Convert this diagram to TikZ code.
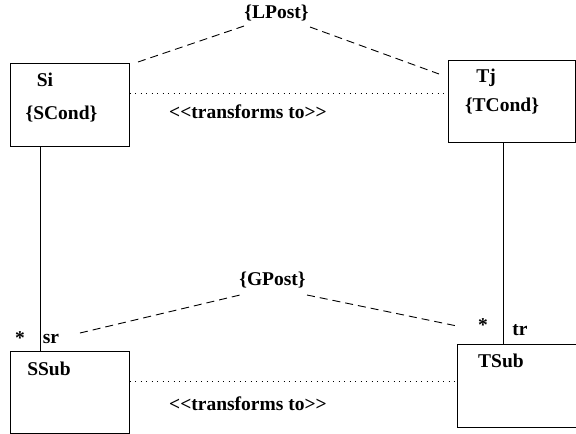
\documentclass[tikz,border=0pt]{standalone}
\usepackage{fontspec}
\setmainfont{Liberation Serif}
\begin{document}
\begin{tikzpicture}[x=1pt,y=-1pt,
  box/.style={draw,line width=1pt,rectangle,inner sep=0pt},
  lbl/.style={font=\fontsize{19.5}{22}\selectfont\bfseries,anchor=base,inner sep=0pt},
  assoc/.style={line width=0.9pt,dash pattern=on 8pt off 5pt},
  trans/.style={line width=1pt,dash pattern=on 1pt off 4.5pt},
  link/.style={line width=1pt}]
\useasboundingbox (0,0) rectangle (576,434);
% classes
\node[box,minimum width=119pt,minimum height=83pt] (si) at (69.5,104.5) {};
\node[box,minimum width=127pt,minimum height=82pt] (tj) at (511.5,101) {};
\node[box,minimum width=119pt,minimum height=82pt] (ssub) at (69.5,392) {};
\node[box,minimum width=126pt,minimum height=83pt] (tsub) at (520,385.5) {};
% class texts
\node[lbl] (siname) at (45,86) {Si};
\node[lbl] (scond) at (61.5,119) {\{SCond\}};
\node[lbl] (tjname) at (486,82) {Tj};
\node[lbl] (tcond) at (502,111) {\{TCond\}};
\node[lbl] (ssubname) at (49,375) {SSub};
\node[lbl] (tsubname) at (501,367) {TSub};
% composition links
\coordinate (sitop) at (40,0);
\draw[link] (si.south -| sitop) -- (ssub.north -| sitop);
\coordinate (tjtop) at (503,0);
\draw[link] (tj.south -| tjtop) -- (tsub.north -| tjtop);
\node[lbl] (sstar) at (20,344) {*};
\node[lbl] (srole) at (51,343) {sr};
\node[lbl] (tstar) at (483,331) {*};
\node[lbl] (trole) at (520,335) {tr};
% transformation relations
\draw[trans] (si.east |- 0,93) -- (tj.west |- 0,93);
\node[lbl] (ttop) at (248,118) {{<}{<}transforms to{>}{>}};
\draw[trans] (ssub.east |- 0,381) -- (tsub.west |- 0,381);
\node[lbl] (tbot) at (248,410) {{<}{<}transforms to{>}{>}};
% constraints
\node[lbl] (lpost) at (276.5,18) {\{LPost\}};
\coordinate (la) at (138,62);
\coordinate (lb) at (247,25);
\coordinate (lc) at (310,27);
\coordinate (ld) at (439,74);
\draw[assoc] (la) -- (lb);
\draw[assoc] (lc) -- (ld);
\node[lbl] (gpost) at (272.5,285) {\{GPost\}};
\coordinate (ga) at (80,333);
\coordinate (gb) at (240,295);
\coordinate (gc) at (307,295);
\coordinate (gd) at (457,326);
\draw[assoc] (ga) -- (gb);
\draw[assoc] (gc) -- (gd);
\end{tikzpicture}
\end{document}
